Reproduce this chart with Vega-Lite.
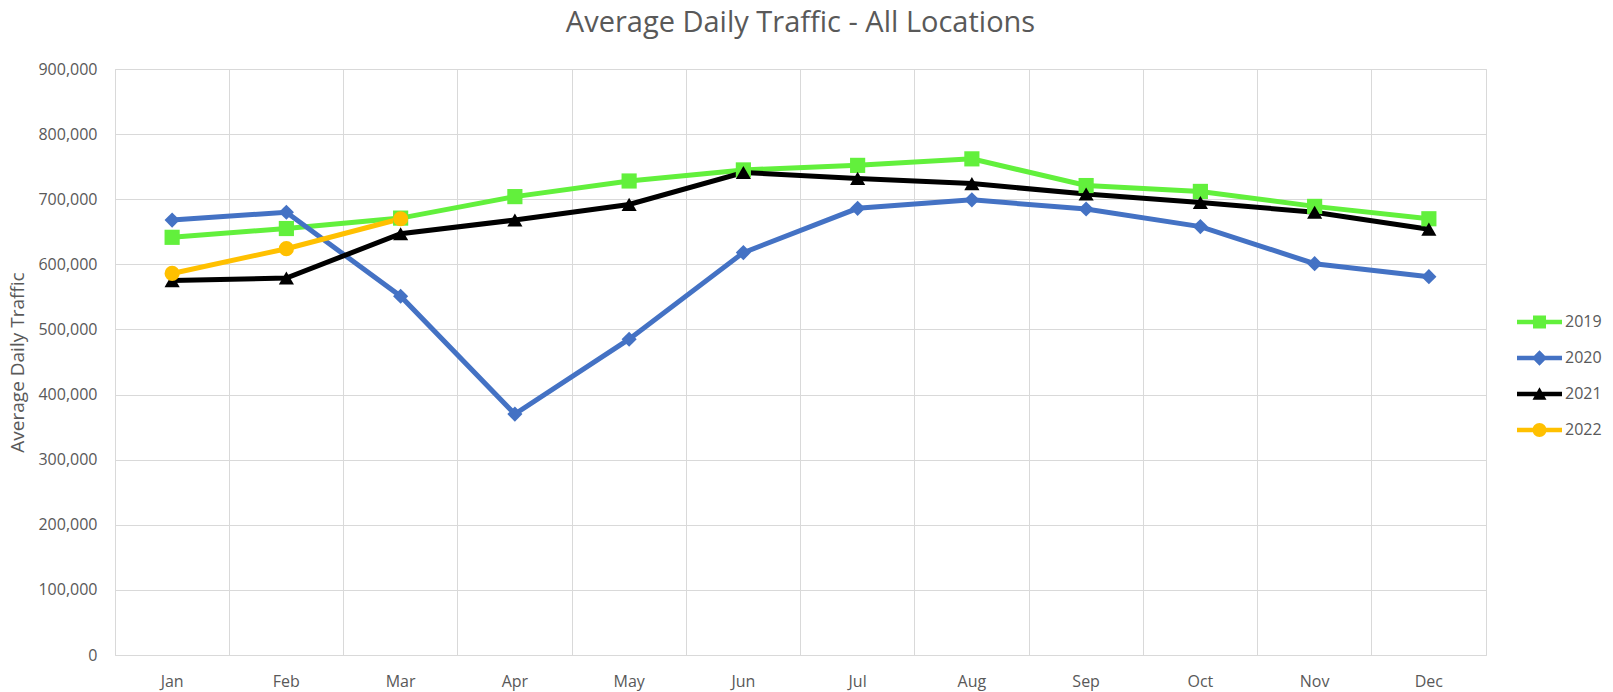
{
  "$schema": "https://vega.github.io/schema/vega-lite/v6.json",
  "width": 1371,
  "height": 586,
  "autosize": {"type": "none"},
  "padding": {"left": 115, "top": 69, "right": 127, "bottom": 37},
  "background": "white",
  "config": {
    "view": {"stroke": "#d9d9d9", "strokeWidth": 1},
    "font": "Open Sans"
  },
  "title": {
    "text": "Average Daily Traffic - All Locations",
    "font": "Open Sans",
    "fontSize": 29,
    "fontWeight": "normal",
    "color": "#595959",
    "anchor": "middle",
    "frame": "group",
    "baseline": "alphabetic",
    "offset": 0
  },
  "data": {
    "values": [
      {"month": "Jan", "year": "2019", "value": 641500},
      {"month": "Feb", "year": "2019", "value": 655000},
      {"month": "Mar", "year": "2019", "value": 671000},
      {"month": "Apr", "year": "2019", "value": 704000},
      {"month": "May", "year": "2019", "value": 728000},
      {"month": "Jun", "year": "2019", "value": 745000},
      {"month": "Jul", "year": "2019", "value": 752000},
      {"month": "Aug", "year": "2019", "value": 762000},
      {"month": "Sep", "year": "2019", "value": 721000},
      {"month": "Oct", "year": "2019", "value": 712000},
      {"month": "Nov", "year": "2019", "value": 689000},
      {"month": "Dec", "year": "2019", "value": 670000},
      {"month": "Jan", "year": "2020", "value": 668000},
      {"month": "Feb", "year": "2020", "value": 680000},
      {"month": "Mar", "year": "2020", "value": 551000},
      {"month": "Apr", "year": "2020", "value": 370000},
      {"month": "May", "year": "2020", "value": 485000},
      {"month": "Jun", "year": "2020", "value": 618000},
      {"month": "Jul", "year": "2020", "value": 686000},
      {"month": "Aug", "year": "2020", "value": 699000},
      {"month": "Sep", "year": "2020", "value": 685000},
      {"month": "Oct", "year": "2020", "value": 658000},
      {"month": "Nov", "year": "2020", "value": 601000},
      {"month": "Dec", "year": "2020", "value": 581000},
      {"month": "Jan", "year": "2021", "value": 575000},
      {"month": "Feb", "year": "2021", "value": 579000},
      {"month": "Mar", "year": "2021", "value": 647000},
      {"month": "Apr", "year": "2021", "value": 668000},
      {"month": "May", "year": "2021", "value": 692000},
      {"month": "Jun", "year": "2021", "value": 741000},
      {"month": "Jul", "year": "2021", "value": 732000},
      {"month": "Aug", "year": "2021", "value": 724000},
      {"month": "Sep", "year": "2021", "value": 708000},
      {"month": "Oct", "year": "2021", "value": 695000},
      {"month": "Nov", "year": "2021", "value": 680000},
      {"month": "Dec", "year": "2021", "value": 654000},
      {"month": "Jan", "year": "2022", "value": 586000},
      {"month": "Feb", "year": "2022", "value": 624000},
      {"month": "Mar", "year": "2022", "value": 670000}
    ]
  },
  "encoding": {
    "x": {
      "field": "month",
      "type": "ordinal",
      "sort": ["Jan","Feb","Mar","Apr","May","Jun","Jul","Aug","Sep","Oct","Nov","Dec"],
      "scale": {"type": "band", "domain": ["Jan","Feb","Mar","Apr","May","Jun","Jul","Aug","Sep","Oct","Nov","Dec"], "paddingInner": 0, "paddingOuter": 0},
      "axis": {
        "title": null,
        "bandPosition": 0,
        "labelAngle": 0,
        "labelFont": "Open Sans",
        "labelFontSize": 16,
        "labelColor": "#595959",
        "labelPadding": 18,
        "labelBaseline": "top",
        "ticks": false,
        "domain": false,
        "grid": true,
        "gridColor": "#d9d9d9",
        "gridWidth": 1
      }
    },
    "y": {
      "field": "value",
      "type": "quantitative",
      "scale": {"domain": [0, 900000], "nice": false, "zero": true},
      "axis": {
        "title": "Average Daily Traffic",
        "titleFont": "Open Sans",
        "titleFontSize": 19,
        "titleFontWeight": "normal",
        "titleColor": "#595959",
        "titleAngle": -90,
        "titleX": -92,
        "titleY": 293,
        "titleAlign": "center",
        "titleBaseline": "alphabetic",
        "values": [0,100000,200000,300000,400000,500000,600000,700000,800000,900000],
        "format": ",d",
        "labelFont": "Open Sans",
        "labelFontSize": 16,
        "labelColor": "#595959",
        "labelPadding": 18,
        "ticks": false,
        "domain": false,
        "grid": true,
        "gridColor": "#d9d9d9",
        "gridWidth": 1
      }
    }
  },
  "layer": [
    {
      "mark": {"type": "line", "strokeWidth": 5},
      "encoding": {
        "color": {
          "field": "year",
          "type": "nominal",
          "scale": {"domain": ["2019","2020","2021","2022"], "range": ["#62F03C","#4472C4","#000000","#FFC000"]},
          "legend": null
        }
      }
    },
    {
      "mark": {"type": "point", "filled": true, "opacity": 1, "size": 230},
      "encoding": {
        "color": {"field": "year", "type": "nominal", "legend": null},
        "shape": {
          "field": "year",
          "type": "nominal",
          "scale": {"domain": ["2019","2020","2021","2022"], "range": ["square","diamond","triangle-up","circle"]},
          "legend": null
        }
      }
    },
    {
      "transform": [{"filter": "false"}],
      "mark": {"type": "point", "filled": true, "opacity": 1},
      "encoding": {
        "fill": {
          "field": "year",
          "type": "nominal",
          "scale": {"domain": ["2019","2020","2021","2022"], "range": ["#62F03C","#4472C4","#000000","#FFC000"]},
          "legend": {
            "title": null,
            "orient": "none",
            "legendX": 1402,
            "legendY": 235,
            "symbolSize": 2025,
            "symbolStrokeWidth": 0,
            "symbolOpacity": 1,
            "clipHeight": 36,
            "rowPadding": 0,
            "labelOffset": 3,
            "labelFont": "Open Sans",
            "labelFontSize": 16,
            "labelColor": "#595959",
            "padding": 0
          }
        },
        "shape": {
          "field": "year",
          "type": "nominal",
          "scale": {"domain": ["2019","2020","2021","2022"], "range": [
            "M-1,-0.1H1V0.1H-1Z M-0.29,-0.29H0.29V0.29H-0.29Z",
            "M-1,-0.1H1V0.1H-1Z M0,-0.34L0.34,0L0,0.34L-0.34,0Z",
            "M-1,-0.1H1V0.1H-1Z M0,-0.3L0.31,0.25H-0.31Z",
            "M-1,-0.1H1V0.1H-1Z M-0.31,0A0.31,0.31,0,1,1,0.31,0A0.31,0.31,0,1,1,-0.31,0Z"
          ]},
          "legend": {
            "title": null,
            "orient": "none",
            "legendX": 1402,
            "legendY": 235,
            "symbolSize": 2025,
            "symbolStrokeWidth": 0,
            "symbolOpacity": 1,
            "clipHeight": 36,
            "rowPadding": 0,
            "labelOffset": 3,
            "labelFont": "Open Sans",
            "labelFontSize": 16,
            "labelColor": "#595959",
            "padding": 0
          }
        }
      }
    }
  ],
  "resolve": {"scale": {"shape": "independent", "fill": "independent"}}
}
